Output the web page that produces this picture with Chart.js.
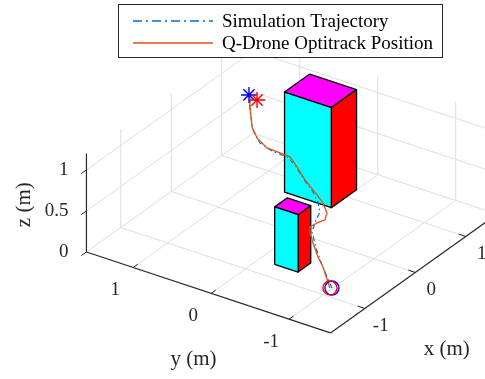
<!DOCTYPE html>
<html>
<head>
<meta charset="utf-8">
<script src="https://cdn.jsdelivr.net/npm/chart.js@4.4.1/dist/chart.umd.min.js"></script>
<style>
  html, body { margin: 0; padding: 0; background: #fff; }
</style>
</head>
<body>
<canvas id="trajChart" width="485" height="379"></canvas>
<script>
// ---- axis limits and ticks (m) ----
const xLim = [-1.68, 1.62];
const yLim = [-1.53, 1.60];
const zLim = [0, 1.2];
const xTicks = [-1, 0, 1];
const yTicks = [-1, 0, 1];
const zTicks = [0, 0.5, 1];
const zTickLabels = ['0', '0.5', '1'];

// ---- simulation trajectory (blue dash-dot) ----
const simX = [-0.818, -0.755, -0.704, -0.659, -0.500, -0.385, -0.271, -0.159, -0.019, 0.115, 0.170, 0.127, 0.125, 0.203, 0.361, 0.453];
const simY = [-0.991, -0.822, -0.712, -0.632, -0.580, -0.557, -0.457, -0.321, -0.102, 0.087, 0.225, 0.390, 0.543, 0.683, 0.824, 0.896];
const simZ = [0, 0.2, 0.35, 0.5, 0.56, 0.6, 0.64, 0.67, 0.71, 0.75, 0.78, 0.82, 0.87, 0.95, 1.08, 1.2];

// ---- Q-Drone optitrack position (orange) ----
const expX = [-0.830, -0.787, -0.784, -0.706, -0.613, -0.577, -0.535, -0.474, -0.360, -0.242, -0.175, -0.029, 0.105, 0.189, 0.170, 0.137, 0.186, 0.254, 0.387, 0.440];
const expY = [-0.973, -0.856, -0.790, -0.675, -0.576, -0.553, -0.616, -0.679, -0.631, -0.503, -0.383, -0.134, 0.055, 0.199, 0.315, 0.460, 0.620, 0.728, 0.840, 0.875];
const expZ = [0, 0.2, 0.3, 0.4, 0.45, 0.5, 0.55, 0.58, 0.6, 0.63, 0.66, 0.7, 0.74, 0.78, 0.8, 0.83, 0.88, 0.95, 1.1, 1.2];

// start (circles) and end (stars) markers
const simStart = [-0.818, -0.991, 0];
const expStart = [-0.830, -0.973, 0];
const simGoal = [0.453, 0.896, 1.2];
const expGoal = [0.408, 0.764, 1.2];

// obstacles
const bigBoxX = [0.70, 1.20], bigBoxY = [0.00, 0.60], bigBoxZ = [0, 1.22];
const smallBoxX = [-0.73, -0.48], smallBoxY = [-0.50, -0.20], smallBoxZ = [0, 0.70];

// ---- view (orthographic, az/el + aspect) ----
const VIEW = { az: 55.7, el: 29.1, aspect: [0.954, 1.005, 1.0] };
const uRange = [-3.152, 2.013];
const vRange = [-1.556, 2.480];

function project(x, y, z) {
    const t = VIEW.az * Math.PI / 180, e = VIEW.el * Math.PI / 180;
    const X = x * VIEW.aspect[0], Y = y * VIEW.aspect[1], Z = z * VIEW.aspect[2];
    return {
        x: X * Math.cos(t) - Y * Math.sin(t),
        y: (X * Math.sin(t) + Y * Math.cos(t)) * Math.sin(e) + Z * Math.cos(e)
    };
}

const GRID = '#dedede';
const AXIS = '#262626';
const FONT = '"Liberation Serif", "Times New Roman", serif';

function lineSet(pts, color, width, order, extra) {
    return Object.assign({
        data: pts.map(p => project(p[0], p[1], p[2])),
        borderColor: color, borderWidth: width, pointRadius: 0,
        fill: false, order: order, tension: 0
    }, extra || {});
}

const datasets = [];

// grid: floor
xTicks.forEach(v => datasets.push(lineSet([[v, yLim[0], 0], [v, yLim[1], 0]], GRID, 1, 100)));
yTicks.forEach(v => datasets.push(lineSet([[xLim[0], v, 0], [xLim[1], v, 0]], GRID, 1, 100)));
// grid: back wall y = ymax
xTicks.forEach(v => datasets.push(lineSet([[v, yLim[1], zLim[0]], [v, yLim[1], zLim[1]]], GRID, 1, 100)));
zTicks.forEach(v => datasets.push(lineSet([[xLim[0], yLim[1], v], [xLim[1], yLim[1], v]], GRID, 1, 100)));
// grid: back wall x = xmax
yTicks.forEach(v => datasets.push(lineSet([[xLim[1], v, zLim[0]], [xLim[1], v, zLim[1]]], GRID, 1, 100)));
zTicks.forEach(v => datasets.push(lineSet([[xLim[1], yLim[0], v], [xLim[1], yLim[1], v]], GRID, 1, 100)));

// axes + tick marks
datasets.push(lineSet([[xLim[0], yLim[1], zLim[0]], [xLim[0], yLim[1], zLim[1]]], AXIS, 1.2, 90));
datasets.push(lineSet([[xLim[0], yLim[0], 0], [xLim[0], yLim[1], 0]], AXIS, 1.2, 90));
datasets.push(lineSet([[xLim[0], yLim[0], 0], [xLim[1], yLim[0], 0]], AXIS, 1.2, 90));
yTicks.forEach(v => datasets.push(lineSet([[xLim[0], v, 0], [xLim[0] + 0.09, v, 0]], AXIS, 1, 90)));
xTicks.forEach(v => datasets.push(lineSet([[v, yLim[0], 0], [v, yLim[0] + 0.09, 0]], AXIS, 1, 90)));
zTicks.forEach(v => datasets.push(lineSet([[xLim[0], yLim[1], v], [xLim[0] - 0.1, yLim[1], v]], AXIS, 1, 90)));

// boxes: visible faces x = xmin (cyan), y = ymin (red), top (magenta)
function boxFaces(bx, by, bz, order) {
    const [a, b] = bx, [c, d] = by, [e, f] = bz;
    const faces = [
        { pts: [[a, c, e], [a, d, e], [a, d, f], [a, c, f], [a, c, e]], color: '#00ffff' },
        { pts: [[a, c, e], [b, c, e], [b, c, f], [a, c, f], [a, c, e]], color: '#ff0000' },
        { pts: [[a, c, f], [b, c, f], [b, d, f], [a, d, f], [a, c, f]], color: '#ff00ff' }
    ];
    faces.forEach(fc => datasets.push(lineSet(fc.pts, '#000000', 1.3, order,
        { fill: 'shape', backgroundColor: fc.color, borderJoinStyle: 'round' })));
}
boxFaces(bigBoxX, bigBoxY, bigBoxZ, 60);
boxFaces(smallBoxX, smallBoxY, smallBoxZ, 50);

// trajectories
const simPts = simX.map((v, i) => [v, simY[i], simZ[i]]);
const expPts = expX.map((v, i) => [v, expY[i], expZ[i]]);
datasets.push(lineSet(simPts, '#0072bd', 1.2, 20,
    { label: 'Simulation Trajectory', borderDash: [5, 3, 1.5, 3], legendDash: [9, 4, 2, 4], borderJoinStyle: 'round' }));
datasets.push(lineSet(expPts, '#d95319', 1.3, 10,
    { label: 'Q-Drone Optitrack Position', borderJoinStyle: 'round' }));

// markers
function marker(p, style, color, r, order) {
    return {
        data: [project(p[0], p[1], p[2])], showLine: false, order: order,
        pointStyle: style, pointRadius: r, pointBorderColor: color, borderColor: color,
        pointBorderWidth: 1.4, pointBackgroundColor: 'rgba(0,0,0,0)'
    };
}
datasets.push(marker(simStart, 'circle', '#0000ff', 7, 5));
datasets.push(marker(expStart, 'circle', '#ff0000', 7, 4));
datasets.push(marker(simGoal, 'star', '#0000ff', 8, 5));
datasets.push(marker(expGoal, 'star', '#ff0000', 8, 4));

// ---- text: tick labels, axis labels ----
const axisText = {
    id: 'axisText',
    afterDraw(chart) {
        const ctx = chart.ctx;
        const sx = chart.scales.x, sy = chart.scales.y;
        const px = (x, y, z) => {
            const p = project(x, y, z);
            return [sx.getPixelForValue(p.x), sy.getPixelForValue(p.y)];
        };
        ctx.save();
        ctx.fillStyle = AXIS;
        ctx.font = '19px ' + FONT;
        ctx.textBaseline = 'middle';
        ctx.textAlign = 'center';
        yTicks.forEach(v => { const [a, b] = px(xLim[0], v, 0); ctx.fillText(String(v), a - 18, b + 23); });
        xTicks.forEach(v => { const [a, b] = px(v, yLim[0], 0); ctx.fillText(String(v), a + 16, b + 18); });
        ctx.textAlign = 'right';
        zTicks.forEach((v, i) => { const [a, b] = px(xLim[0], yLim[1], v); ctx.fillText(zTickLabels[i], a - 18, b); });

        ctx.font = '21px ' + FONT;
        ctx.textAlign = 'center';
        let [a, b] = px(xLim[0], (yLim[0] + yLim[1]) / 2, 0);
        ctx.fillText('y (m)', a - 15, b + 67);
        [a, b] = px((xLim[0] + xLim[1]) / 2, yLim[0], 0);
        ctx.fillText('x (m)', a + 33, b + 76);
        [a, b] = px(xLim[0], yLim[1], (zLim[0] + zLim[1]) / 2);
        ctx.translate(a - 62, b + 2);
        ctx.rotate(-Math.PI / 2);
        ctx.fillText('z (m)', 0, 0);
        ctx.restore();
    }
};

// ---- legend box ----
const boxLegend = {
    id: 'boxLegend',
    afterDraw(chart) {
        const ctx = chart.ctx;
        const items = chart.data.datasets.filter(d => d.label);
        ctx.save();
        ctx.fillStyle = '#ffffff';
        ctx.fillRect(118.5, 4.5, 324, 53);
        ctx.strokeStyle = AXIS;
        ctx.lineWidth = 1;
        ctx.strokeRect(118.5, 4.5, 324, 53);
        items.forEach((it, i) => {
            const yy = 21 + i * 22;
            ctx.strokeStyle = it.borderColor;
            ctx.lineWidth = 1.3;
            ctx.setLineDash(it.legendDash || []);
            ctx.beginPath();
            ctx.moveTo(133, yy);
            ctx.lineTo(213, yy);
            ctx.stroke();
            ctx.setLineDash([]);
            ctx.fillStyle = '#000000';
            ctx.font = '19px ' + FONT;
            ctx.textAlign = 'left';
            ctx.textBaseline = 'middle';
            ctx.fillText(it.label, 222, yy + 1);
        });
        ctx.restore();
    }
};

new Chart(document.getElementById('trajChart').getContext('2d'), {
    type: 'line',
    data: { datasets: datasets },
    options: {
        responsive: false,
        animation: false,
        events: [],
        layout: { padding: 0, autoPadding: false },
        plugins: { legend: { display: false }, tooltip: { enabled: false } },
        scales: {
            x: { type: 'linear', min: uRange[0], max: uRange[1], display: false },
            y: { type: 'linear', min: vRange[0], max: vRange[1], display: false }
        }
    },
    plugins: [axisText, boxLegend]
});
</script>
</body>
</html>
